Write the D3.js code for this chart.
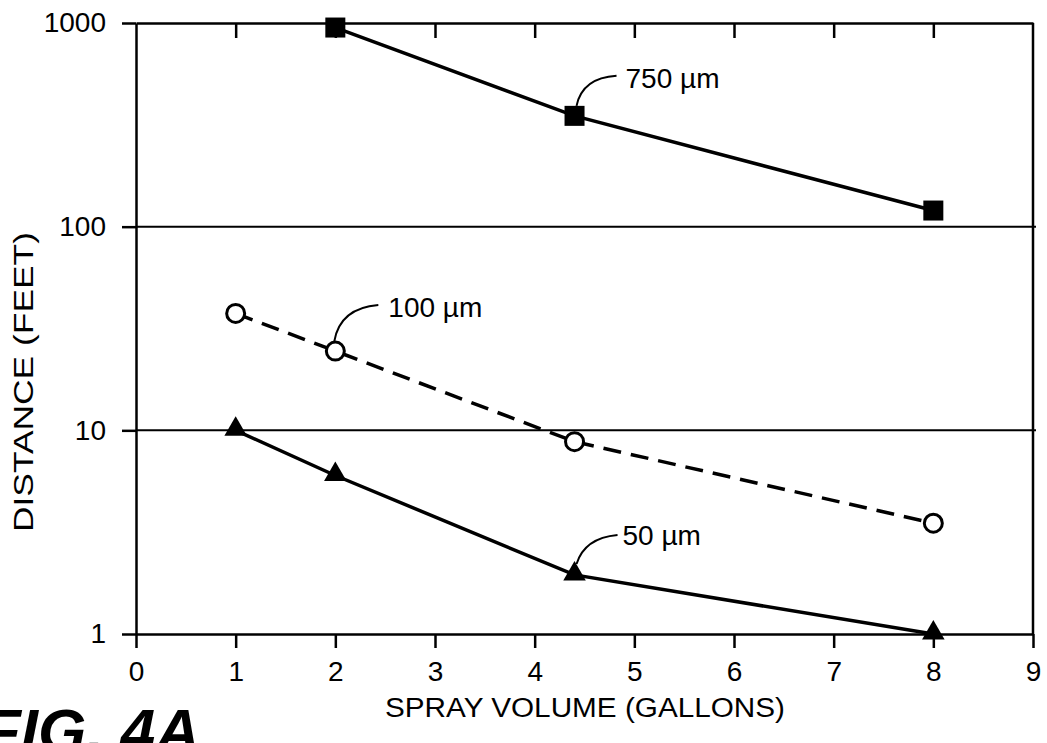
<!DOCTYPE html>
<html>
  <head>
    <meta charset="utf-8">
    <style>
body {
  margin: 0;
  background: white;
}
text {
  font-family: "Liberation Sans", Arial, sans-serif;
  fill: black;
}
.axis path, .axis line {
  stroke: black;
  stroke-width: 2.5;
}
.grid line {
  stroke: black;
  stroke-width: 2;
}
    </style>
    <script src="https://d3js.org/d3.v7.min.js"></script>
  </head>
  <body>
    <div id="viz"></div>
    <script>

// spray volume (gallons) vs drift distance (feet), by droplet size
var x750 = [2, 4.4, 8];
var y750 = [950, 350, 120];

var x100 = [1, 2, 4.4, 8];
var y100 = [37.5, 24.5, 8.8, 3.5];

var x50 = [1, 2, 4.4, 8];
var y50 = [10, 6, 1.95, 1];

var xTicks = [0, 1, 2, 3, 4, 5, 6, 7, 8, 9];
var yTicks = [1, 10, 100, 1000];
var gridValues = [10, 100];

var seriesNames = ["750 µm", "100 µm", "50 µm"];

var width = 1047,
    height = 743;

var x = d3.scaleLinear()
    .domain([0, 9])
    .range([136, 1033]);

var y = d3.scaleLog()
    .domain([1, 1000])
    .range([634, 23]);

var svg = d3.select('#viz')
    .append('svg')
    .attr('width', width)
    .attr('height', height);

// horizontal rules at 10 and 100
svg.append("g")
    .attr("class", "grid")
  .selectAll("line")
  .data(gridValues)
  .enter().append("line")
    .attr("x1", x(0))
    .attr("x2", x(9) + 3)
    .attr("y1", function(d) { return y(d); })
    .attr("y2", function(d) { return y(d); });

// bottom axis, ticks pointing out
var xAxis = svg.append("g")
    .attr("class", "axis")
    .attr("transform", "translate(0," + y(1) + ")")
    .call(d3.axisBottom(x).tickValues(xTicks).tickSize(14).tickSizeOuter(0).tickPadding(13));
xAxis.selectAll("text")
    .style("font-size", "28px");

// top border, ticks pointing in
svg.append("g")
    .attr("class", "axis")
    .attr("transform", "translate(0," + y(1000) + ")")
    .call(d3.axisBottom(x).tickValues(xTicks.slice(1, 9)).tickSize(15).tickSizeOuter(0).tickFormat(""));

// left axis
var yAxis = svg.append("g")
    .attr("class", "axis")
    .attr("transform", "translate(" + x(0) + ",0)")
    .call(d3.axisLeft(y).tickValues(yTicks).tickSize(14).tickSizeOuter(0).tickPadding(16).tickFormat(d3.format("d")));
yAxis.selectAll("text")
    .style("font-size", "28px");

// right border
svg.append("line")
    .attr("x1", x(9)).attr("x2", x(9))
    .attr("y1", y(1000)).attr("y2", y(1))
    .attr("stroke", "black")
    .attr("stroke-width", 2.5);

var line = d3.line()
    .x(function(d) { return x(d[0]); })
    .y(function(d) { return y(d[1]); });

var pts750 = d3.zip(x750, y750),
    pts100 = d3.zip(x100, y100),
    pts50 = d3.zip(x50, y50);

svg.append("path")
    .datum(pts750)
    .attr("d", line)
    .attr("fill", "none")
    .attr("stroke", "black")
    .attr("stroke-width", 3.5);

svg.append("path")
    .datum(pts100)
    .attr("d", line)
    .attr("fill", "none")
    .attr("stroke", "black")
    .attr("stroke-width", 3.5)
    .attr("stroke-dasharray", "18,10");

svg.append("path")
    .datum(pts50)
    .attr("d", line)
    .attr("fill", "none")
    .attr("stroke", "black")
    .attr("stroke-width", 3.5);

// markers
svg.append("g").selectAll("rect")
  .data(pts750)
  .enter().append("rect")
    .attr("x", function(d) { return x(d[0]) - 10; })
    .attr("y", function(d) { return y(d[1]) - 10; })
    .attr("width", 20)
    .attr("height", 20)
    .attr("fill", "black");

svg.append("g").selectAll("circle")
  .data(pts100)
  .enter().append("circle")
    .attr("cx", function(d) { return x(d[0]); })
    .attr("cy", function(d) { return y(d[1]); })
    .attr("r", 9)
    .attr("fill", "white")
    .attr("stroke", "black")
    .attr("stroke-width", 3);

var tri = d3.symbol().type(d3.symbolTriangle).size(220);
svg.append("g").selectAll("path")
  .data(pts50)
  .enter().append("path")
    .attr("d", tri)
    .attr("transform", function(d) { return "translate(" + x(d[0]) + "," + (y(d[1]) - 1) + ")"; })
    .attr("fill", "black");

// callouts: anchored at a data point, leader curve then label
var callouts = [
  {name: seriesNames[0], p: pts750[1], s: [2, -10], c: [8, -38], e: [42, -40], t: [51, -28]},
  {name: seriesNames[1], p: pts100[1], s: [-1, -10], c: [5, -43], e: [43, -46], t: [53, -34]},
  {name: seriesNames[2], p: pts50[2], s: [2, -11], c: [10, -37], e: [43, -40], t: [48, -30]}
];

var co = svg.append("g").selectAll("g")
  .data(callouts)
  .enter().append("g")
    .attr("transform", function(d) { return "translate(" + x(d.p[0]) + "," + y(d.p[1]) + ")"; });

co.append("path")
    .attr("d", function(d) {
      return "M" + d.s + "Q" + d.c + " " + d.e;
    })
    .attr("fill", "none")
    .attr("stroke", "black")
    .attr("stroke-width", 2);

co.append("text")
    .attr("x", function(d) { return d.t[0]; })
    .attr("y", function(d) { return d.t[1]; })
    .style("font-size", "28px")
    .text(function(d) { return d.name; });

// axis titles
svg.append("text")
    .attr("transform", "translate(33,382) rotate(-90)")
    .attr("text-anchor", "middle")
    .attr("textLength", 300)
    .attr("lengthAdjust", "spacingAndGlyphs")
    .style("font-size", "27px")
    .text("DISTANCE (FEET)");

svg.append("text")
    .attr("x", 585)
    .attr("y", 717)
    .attr("text-anchor", "middle")
    .attr("textLength", 400)
    .attr("lengthAdjust", "spacingAndGlyphs")
    .style("font-size", "27px")
    .text("SPRAY VOLUME (GALLONS)");

// figure tag, cut by the bottom edge as in the scan
svg.append("text")
    .attr("x", 200)
    .attr("y", 752)
    .attr("text-anchor", "end")
    .style("font-size", "62px")
    .style("font-weight", "bold")
    .style("font-style", "italic")
    .text("FIG. 4A");

    </script>
  </body>
</html>
